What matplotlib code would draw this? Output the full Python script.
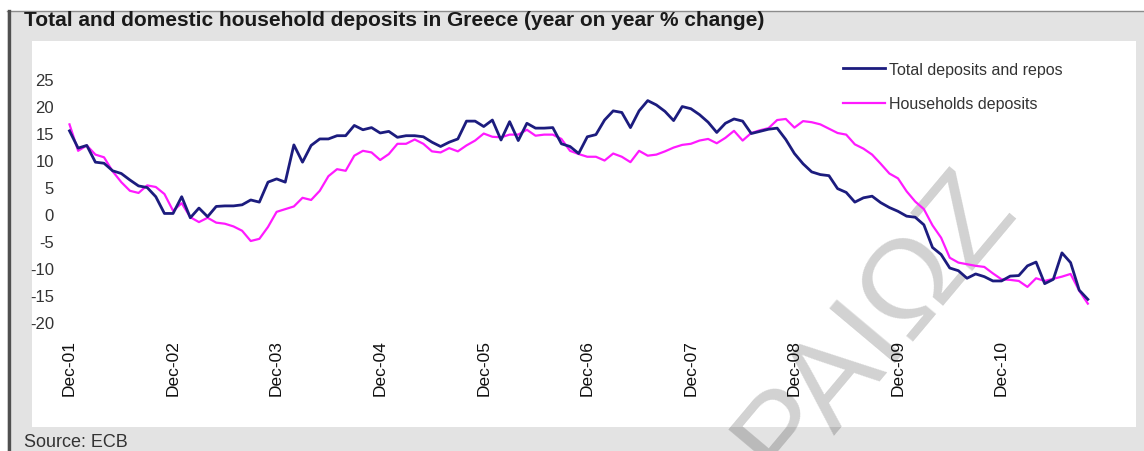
import numpy as np
import matplotlib
matplotlib.use("Agg")
import matplotlib.pyplot as plt
from matplotlib.patches import Rectangle
from matplotlib.lines import Line2D

plt.rcParams['font.family'] = ['Liberation Sans', 'DejaVu Sans']

# monthly observations, Dec-2001 onwards (y-o-y % change)
total_deposits = [
    15.4, 12.2, 12.7, 9.6, 9.4, 8.0, 7.5, 6.3, 5.2, 4.9, 3.2, 0.1,
    0.1, 3.2, -0.7, 1.1, -0.5, 1.4, 1.5, 1.5, 1.7, 2.6, 2.2, 5.9,
    6.5, 5.9, 12.8, 9.6, 12.7, 13.9, 13.9, 14.5, 14.5, 16.4, 15.6, 16.0,
    15.0, 15.3, 14.2, 14.5, 14.5, 14.3, 13.3, 12.5, 13.3, 13.9, 17.2, 17.2,
    16.2, 17.4, 13.7, 17.1, 13.6, 16.8, 15.9, 15.9, 16.0, 13.0, 12.5, 11.2,
    14.3, 14.7, 17.4, 19.1, 18.8, 16.0, 19.1, 21.0, 20.2, 19.0, 17.3, 19.9,
    19.5, 18.4, 17.0, 15.1, 16.8, 17.6, 17.2, 14.9, 15.3, 15.7, 15.9, 13.8,
    11.2, 9.3, 7.8, 7.3, 7.1, 4.7, 4.0, 2.2, 3.0, 3.3, 2.1, 1.2,
    0.5, -0.4, -0.6, -2.0, -6.2, -7.5, -10.0, -10.5, -11.9, -11.1, -11.6, -12.4,
    -12.4, -11.5, -11.4, -9.6, -8.9, -12.9, -12.1, -7.2, -9.0, -14.1, -15.8,
]
household_deposits = [
    16.6, 11.7, 12.7, 11.0, 10.5, 7.9, 5.9, 4.3, 3.9, 5.3, 5.0, 3.7,
    0.6, 2.0, -0.6, -1.5, -0.7, -1.6, -1.8, -2.3, -3.1, -5.0, -4.6, -2.4,
    0.4, 0.9, 1.4, 3.0, 2.6, 4.3, 7.0, 8.3, 8.0, 10.8, 11.7, 11.4,
    10.0, 11.1, 13.0, 13.0, 13.8, 13.0, 11.6, 11.4, 12.2, 11.6, 12.7, 13.6,
    14.9, 14.3, 14.2, 14.7, 14.7, 15.6, 14.5, 14.7, 14.7, 13.9, 11.7, 11.1,
    10.6, 10.6, 9.9, 11.2, 10.6, 9.6, 11.7, 10.8, 11.0, 11.6, 12.3, 12.8,
    13.0, 13.6, 13.9, 13.1, 14.1, 15.4, 13.6, 15.0, 15.5, 15.9, 17.4, 17.6,
    16.0, 17.2, 17.0, 16.6, 15.8, 15.0, 14.7, 12.9, 12.1, 11.0, 9.3, 7.5,
    6.6, 4.2, 2.3, 0.9, -2.1, -4.4, -8.1, -9.0, -9.3, -9.6, -9.8, -11.0,
    -12.1, -12.2, -12.4, -13.5, -11.9, -12.4, -12.0, -11.6, -11.1, -14.2, -16.6,
]
tick_labels = ['Dec-01', 'Dec-02', 'Dec-03', 'Dec-04', 'Dec-05',
               'Dec-06', 'Dec-07', 'Dec-08', 'Dec-09', 'Dec-10']
y_ticks = [-20, -15, -10, -5, 0, 5, 10, 15, 20, 25]

W, H = 1144, 452
fig = plt.figure(figsize=(W / 100, H / 100), dpi=100, facecolor='white')

# grey frame with the white chart area inside it
fig.patches.append(Rectangle((7 / W, 0), 1, (H - 12) / H, transform=fig.transFigure,
                             facecolor='#e3e3e3', edgecolor='none', zorder=-3))
fig.add_artist(Line2D([7 / W, 1], [(H - 12) / H] * 2, color='#8c8c8c', lw=1.0, zorder=-2))
fig.add_artist(Line2D([8.5 / W] * 2, [0, (H - 12) / H], color='#505050', lw=2.4, zorder=-2))
fig.patches.append(Rectangle((32 / W, 1 - 428 / H), 1104 / W, 386 / H, transform=fig.transFigure,
                             facecolor='white', edgecolor='none', zorder=-2))

x = np.arange(len(total_deposits))
x0_px, step_px = 69.5, 8.63
xmin, xmax = -1.0, 121.0
left = (x0_px + xmin * step_px) / W
right = (x0_px + xmax * step_px) / W
ax = fig.add_axes([left, 1 - 323 / H, right - left, (323 - 80) / H])
ax.patch.set_alpha(0)

ax.plot(x, total_deposits, color='#1c1c7e', lw=2.0, label='Total deposits and repos', zorder=3)
ax.plot(x, household_deposits, color='#ff1aff', lw=1.6, label='Households deposits', zorder=2)

ax.set_xlim(xmin, xmax)
ax.set_ylim(-20, 25)
ax.set_yticks(y_ticks)
ax.set_yticklabels([str(v) for v in y_ticks])
ax.set_xticks(np.arange(len(tick_labels)) * 12)
ax.set_xticklabels(tick_labels, rotation=90, va='top', ha='center')
ax.tick_params(axis='y', length=0, pad=5, labelsize=12, labelcolor='#333333')
ax.tick_params(axis='x', length=0, pad=12, labelsize=12.5, labelcolor='#111111')
for s in ax.spines.values():
    s.set_visible(False)

ax.legend(loc='upper left', bbox_to_anchor=(843 / W, 1 - 63 / H), bbox_transform=fig.transFigure,
          frameon=False, fontsize=11.5, handlelength=2.6, handletextpad=0.3,
          labelspacing=1.2, borderpad=0, borderaxespad=0, labelcolor='#333333')

fig.text(24 / W, 1 - 21 / H, 'Total and domestic household deposits in Greece (year on year % change)',
         fontsize=15, fontweight='bold', color='#1a1a1a', va='center', ha='left')
fig.text(24 / W, 1 - 443 / H, 'Source: ECB', fontsize=13, color='#333333', va='center', ha='left')

# diagonal watermark, behind the two series
ax.text(875 / W, 1 - 325 / H, 'ΡΑΙΩΖ', transform=fig.transFigure, fontsize=90,
        color='black', alpha=0.18, rotation=50, ha='center', va='center',
        zorder=1, clip_on=False)

fig.savefig('out.png', dpi=100, facecolor=fig.get_facecolor())
